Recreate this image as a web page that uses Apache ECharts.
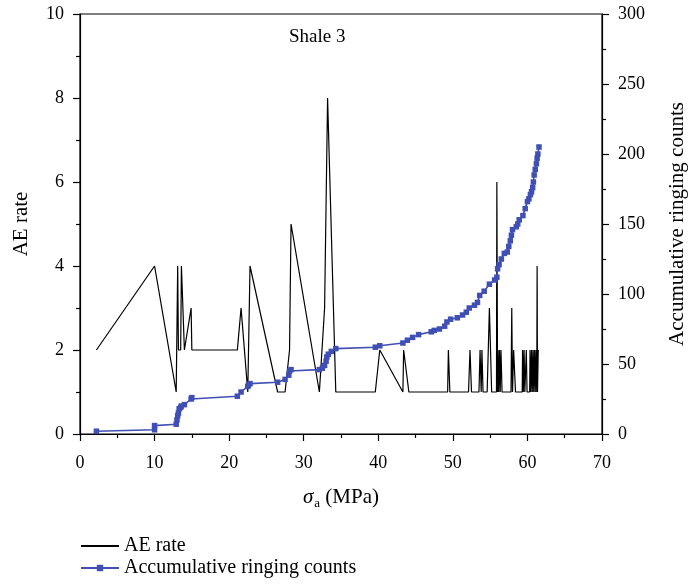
<!DOCTYPE html>
<html>
<head>
<meta charset="utf-8">
<script src="https://cdn.jsdelivr.net/npm/echarts@6/dist/echarts.min.js"></script>
<style>
  html, body { margin: 0; padding: 0; background: #fff; }
  #chart { width: 690px; height: 584px; }
</style>
</head>
<body>
<div id="chart"></div>
<script>
// AE rate (left axis), x = axial stress in MPa
var aeX = [2.2, 10, 12.9, 13.1, 13.2, 13.5, 13.6, 14.0, 14.9, 15.0, 21.1, 21.6, 22.5, 22.8,
  26.5, 27.5, 28.1, 28.3, 32.1, 32.8, 33.2, 34.3, 39.6, 40.2, 43.3, 43.4, 44.1,
  49.3, 49.4, 49.6, 52.1, 52.3, 52.5, 53.5, 53.65, 53.8, 53.9, 54.05, 54.6, 54.9, 55.2,
  55.85, 55.9, 56.0, 56.05, 56.15, 56.25, 56.35, 56.45, 56.6, 57.8, 57.9, 58.0, 58.15, 58.4,
  59.3, 59.35, 59.45, 59.55, 59.65, 59.85, 59.95, 60.3, 60.35, 60.45, 60.55, 60.65, 60.75,
  60.85, 60.95, 61.05, 61.15, 61.25, 61.3, 61.35, 61.45, 61.5]
var aeY = [2, 4, 1, 4, 2, 2, 4, 2, 3, 2, 2, 3, 1, 4,
  1, 1, 2, 5, 1, 3, 8, 1, 1, 2, 1, 2, 1,
  1, 2, 1, 1, 2, 1, 1, 2, 1, 2, 1, 1, 3, 1,
  1, 6, 1, 2, 1, 2, 1, 2, 1, 1, 3, 1, 2, 1,
  1, 2, 1, 2, 1, 2, 1, 1, 2, 1, 2, 1, 2,
  1, 2, 1, 2, 1, 4, 1, 2, 2, 1]

// accumulative ringing counts (right axis)
var cumX = [2.2, 10, 10, 12.9, 13.0, 13.1, 13.2, 13.3, 13.5, 13.6, 14.0, 14.9, 15.0,
  21.1, 21.6, 22.5, 22.6, 22.8, 26.5, 27.5, 28.0, 28.1, 28.3, 32.1, 32.5, 32.8, 33.0,
  33.1, 33.3, 33.7, 34.3, 39.6, 40.2, 43.3, 43.9, 44.6, 45.4, 47.1, 47.5, 48.2, 48.9,
  49.2, 49.7, 50.6, 51.3, 51.8, 52.2, 52.9, 53.3, 53.6, 54.2, 54.9, 55.6, 55.9, 56.0,
  56.2, 56.5, 56.9, 57.3, 57.5, 57.7, 57.85, 58.0, 58.5, 58.7, 58.9, 59.4, 59.7, 60.0,
  60.2, 60.4, 60.55, 60.7, 60.8, 60.9, 61.05, 61.2, 61.3, 61.4, 61.55]
var cumY = [2, 3, 6, 7, 10, 13, 15, 18, 19, 20, 21, 25, 26,
  27, 30, 34, 35, 36, 37, 39, 42, 45, 46, 46, 47, 49, 52,
  55, 57, 59, 61, 62, 63, 65, 67, 69, 71, 73, 74, 75, 77,
  80, 82, 83, 85, 87, 90, 92, 94, 99, 102, 107, 110, 112, 118,
  121, 125, 129, 130, 134, 138, 142, 146, 148, 150, 153, 156, 161, 166,
  168, 171, 173, 176, 180, 185, 189, 193, 197, 200, 205]

var xTicks = [0, 70, 10]
var leftTicks = [0, 10, 2]
var rightTicks = [0, 300, 50]

function zip(a, b) {
  var out = []
  for (var i = 0; i < a.length; i++) {
    out.push([a[i], b[i]])
  }
  return out
}

var font = 'Liberation Serif'
var blue = '#3f4fb3'

var myChart = echarts.init(document.getElementById('chart'), null, { renderer: 'canvas' })

function axisStyle() {
  return {
    axisLine: { show: true, onZero: false, lineStyle: { color: '#000', width: 1.2 } },
    axisTick: { show: true, inside: false, length: 7, lineStyle: { color: '#000', width: 1.2 } },
    minorTick: { show: true, splitNumber: 2, length: 4, lineStyle: { color: '#000', width: 1.2 } },
    splitLine: { show: false },
    axisLabel: { color: '#000', fontFamily: font, fontSize: 18 }
  }
}

var nameFont = { color: '#000', fontFamily: font, fontSize: 21 }

var xAxis = Object.assign(axisStyle(), {
  type: 'value',
  min: xTicks[0],
  max: xTicks[1],
  interval: xTicks[2],
  name: '{i|σ}{s|a} (MPa)',
  nameLocation: 'middle',
  nameGap: 51,
  nameTextStyle: {
    color: '#000', fontFamily: font, fontSize: 21,
    rich: {
      i: { fontFamily: font, fontSize: 21, fontStyle: 'italic', color: '#000' },
      s: { fontFamily: font, fontSize: 13, color: '#000', padding: [12, 0, 0, 1] }
    }
  }
})
xAxis.axisLabel.margin = 20

var yLeft = Object.assign(axisStyle(), {
  type: 'value',
  position: 'left',
  min: leftTicks[0],
  max: leftTicks[1],
  interval: leftTicks[2],
  name: 'AE rate',
  nameLocation: 'middle',
  nameGap: 48,
  nameTextStyle: nameFont
})
yLeft.axisLabel.margin = 16

var yRight = Object.assign(axisStyle(), {
  type: 'value',
  position: 'right',
  min: rightTicks[0],
  max: rightTicks[1],
  interval: rightTicks[2],
  name: 'Accumulative ringing counts',
  nameLocation: 'middle',
  nameGap: 65,
  nameTextStyle: nameFont
})
yRight.axisLabel.margin = 16

var option = {
  animation: false,
  backgroundColor: '#fff',
  textStyle: { fontFamily: font },
  title: {
    text: 'Shale 3',
    left: 284,
    top: 23,
    textStyle: { color: '#000', fontFamily: font, fontSize: 19, fontWeight: 'normal' }
  },
  grid: {
    left: 80,
    right: 88,
    top: 14,
    bottom: 150,
    outerBoundsMode: 'none',
    show: true,
    borderColor: '#000',
    borderWidth: 1.2,
    backgroundColor: 'transparent'
  },
  legend: {
    orient: 'vertical',
    left: 80,
    top: 536,
    padding: 0,
    itemWidth: 38,
    itemHeight: 8,
    itemGap: 2,
    textStyle: { color: '#000', fontFamily: font, fontSize: 20 },
    data: [
      { name: 'AE rate', itemStyle: { color: 'rgba(0,0,0,0)', borderWidth: 0 } },
      { name: 'Accumulative ringing counts' }
    ]
  },
  xAxis: xAxis,
  yAxis: [yLeft, yRight],
  series: [
    {
      name: 'AE rate',
      type: 'line',
      yAxisIndex: 0,
      symbol: 'none',
      lineStyle: { color: '#000', width: 1.2 },
      itemStyle: { color: '#000' },
      data: zip(aeX, aeY)
    },
    {
      name: 'Accumulative ringing counts',
      type: 'line',
      yAxisIndex: 1,
      symbol: 'rect',
      symbolSize: 5.5,
      showAllSymbol: true,
      lineStyle: { color: blue, width: 1.6 },
      itemStyle: { color: blue },
      data: zip(cumX, cumY)
    }
  ]
}

option && myChart.setOption(option)
</script>
</body>
</html>
